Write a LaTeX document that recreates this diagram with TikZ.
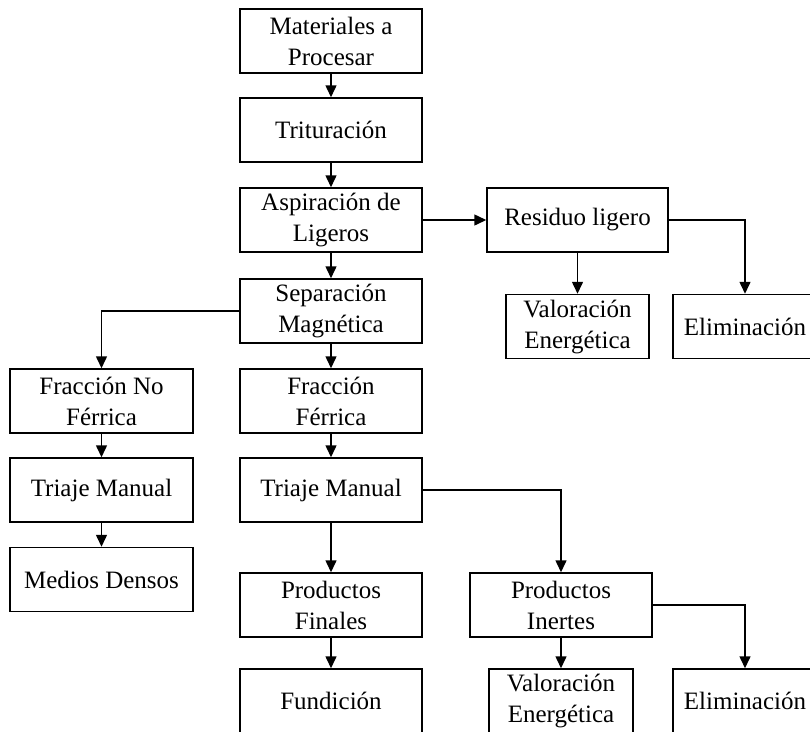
\documentclass[tikz,border=0pt]{standalone}
\usepackage{fontspec}
\setmainfont{Liberation Serif}
\usetikzlibrary{arrows.meta}
\begin{document}
\begin{tikzpicture}[x=1pt,y=-1pt,
  box/.style={draw, line width=1.5pt, minimum width=#1, minimum height=64pt,
    inner sep=0pt, align=center, font=\fontsize{25}{31}\selectfont},
  box/.default=182pt,
  flow/.style={line width=1.5pt, -{Triangle[width=11pt,length=12pt]}}]
\clip (0,0) rectangle (810,731);
% main column
\node[box] (mat) at (331,41)  {Materiales a\\Procesar};
\node[box] (tri) at (331,130) {Trituración};
\node[box] (asp) at (331,220) {Aspiración de\\Ligeros};
\node[box] (sep) at (331,311) {Separación\\Magnética};
\node[box] (ff)  at (331,401) {Fracción\\Férrica};
\node[box] (tm2) at (331,490) {Triaje Manual};
\node[box] (pf)  at (331,605) {Productos\\Finales};
\node[box] (fun) at (331,701) {Fundición};
% light residue branch
\node[box=181pt] (res)  at (577.5,220) {Residuo ligero};
\node[box=143pt] (val1) at (577.5,326.5) {Valoración\\Energética};
\node[box=144pt] (eli1) at (745,326.5) {Eliminación};
% non-ferrous branch
\node[box=183pt] (fnf) at (101.5,401) {Fracción No\\Férrica};
\node[box=183pt] (tm1) at (101.5,490) {Triaje Manual};
\node[box=183pt] (md)  at (101.5,579.5) {Medios Densos};
% inert products branch
\node[box] (pi) at (561,605) {Productos\\Inertes};
\node[box=144pt] (val2) at (561,701) {Valoración\\Energética};
\node[box=144pt] (eli2) at (745,701) {Eliminación};
% connectors
\draw[flow] (mat) -- (tri);
\draw[flow] (tri) -- (asp);
\draw[flow] (asp) -- (res);
\draw[flow] (asp) -- (sep);
\draw[flow] (res) -- (val1);
\draw[flow] (res.east) -| (eli1.north);
\draw[flow] (sep.west) -| (fnf.north);
\draw[flow] (sep) -- (ff);
\draw[flow] (fnf) -- (tm1);
\draw[flow] (tm1) -- (md);
\draw[flow] (ff) -- (tm2);
\draw[flow] (tm2) -- (pf);
\draw[flow] (tm2.east) -| (pi.north);
\draw[flow] (pf) -- (fun);
\draw[flow] (pi) -- (val2);
\draw[flow] (pi.east) -| (eli2.north);
\end{tikzpicture}
\end{document}
